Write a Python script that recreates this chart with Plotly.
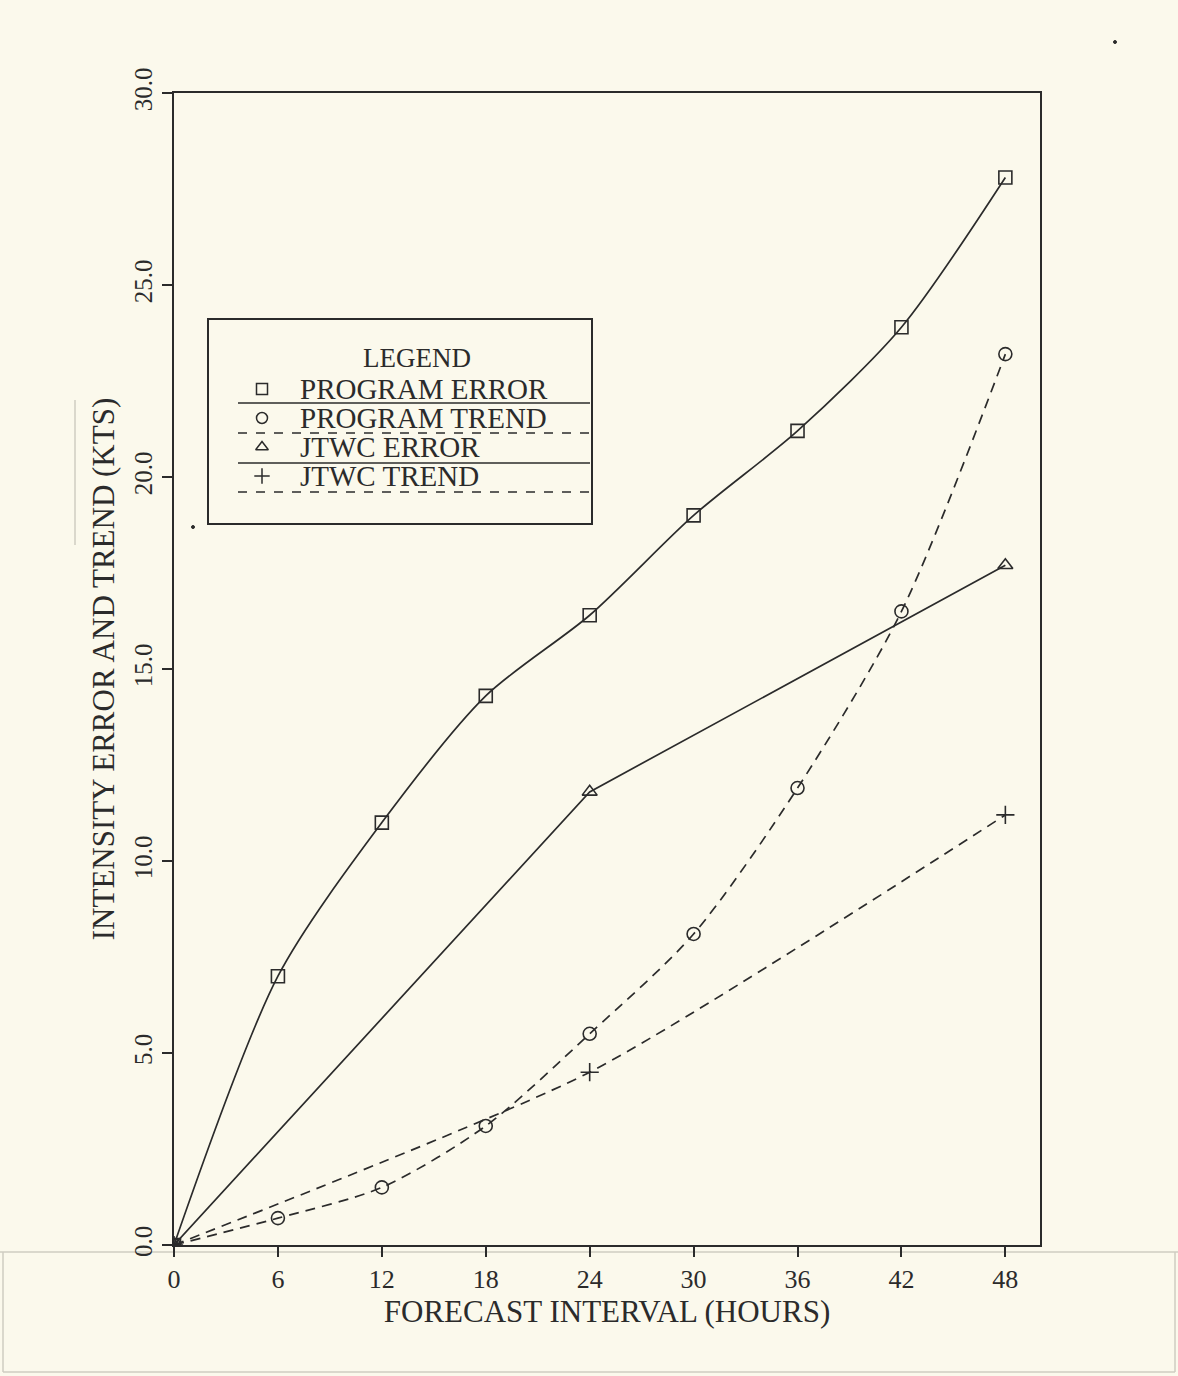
import plotly.graph_objects as go

# ---------------- data ----------------
hours = [0, 6, 12, 18, 24, 30, 36, 42, 48]
program_error = [0.0, 7.0, 11.0, 14.3, 16.4, 19.0, 21.2, 23.9, 27.8]
program_trend = [0.0, 0.7, 1.5, 3.1, 5.5, 8.1, 11.9, 16.5, 23.2]
jtwc_hours = [0, 24, 48]
jtwc_error = [0.0, 11.8, 17.7]
jtwc_trend = [0.0, 4.5, 11.2]

x_ticks = [0, 6, 12, 18, 24, 30, 36, 42, 48]
y_ticks = [0, 5, 10, 15, 20, 25, 30]
legend_labels = ["PROGRAM ERROR", "PROGRAM TREND", "JTWC ERROR", "JTWC TREND"]

# ---------------- style ----------------
W, H = 1178, 1376
L, R, T, B = 174, 138, 93, 131
PW, PH = W - L - R, H - T - B
BG = "#FBF9EC"
INK = "#2b2b2b"
FAINT = "#cfcdc2"
FONT = "Liberation Serif, Times New Roman, serif"

def px(x):
    return (x - L) / PW

def py(y):
    return 1 - (y - T) / PH

fig = go.Figure()

fig.add_trace(go.Scatter(
    x=hours, y=program_error, mode="lines+markers", name=legend_labels[0],
    line=dict(color=INK, width=1.7, shape="spline", smoothing=0.8),
    marker=dict(symbol="square-open", size=13, color=INK, line=dict(width=1.6)),
))
fig.add_trace(go.Scatter(
    x=hours, y=program_trend, mode="lines+markers", name=legend_labels[1],
    line=dict(color=INK, width=1.7, dash="10px,7px", shape="spline", smoothing=0.8),
    marker=dict(symbol="circle-open", size=13, color=INK, line=dict(width=1.6)),
))
fig.add_trace(go.Scatter(
    x=jtwc_hours, y=jtwc_error, mode="lines+markers", name=legend_labels[2],
    line=dict(color=INK, width=1.7),
    marker=dict(symbol="triangle-up-open", size=13, color=INK, line=dict(width=1.6)),
))
fig.add_trace(go.Scatter(
    x=jtwc_hours, y=jtwc_trend, mode="lines+markers", name=legend_labels[3],
    line=dict(color=INK, width=1.7, dash="10px,7px", shape="spline", smoothing=0.6),
    marker=dict(symbol="cross-thin-open", size=13, color=INK, line=dict(width=1.6)),
))

# ---------------- hand-drawn style legend ----------------
shapes = [dict(type="rect", xref="paper", yref="paper",
               x0=px(208), x1=px(592), y0=py(524), y1=py(319),
               line=dict(color=INK, width=2), fillcolor=BG, layer="below")]
annotations = [dict(text="LEGEND", xref="paper", yref="paper", x=px(417), y=py(358),
                    showarrow=False, font=dict(family=FONT, size=27, color=INK),
                    xanchor="center", yanchor="middle")]
row_y = [389, 418, 447, 476]
line_y = [403, 433, 463, 492]
dashes = ["solid", "dash", "solid", "dash"]
symbols = ["square-open", "circle-open", "triangle-up-open", "cross-thin-open"]
for i, lab in enumerate(legend_labels):
    annotations.append(dict(text=lab, xref="paper", yref="paper", x=px(298), y=py(row_y[i]),
                            showarrow=False, font=dict(family=FONT, size=29, color=INK),
                            xanchor="left", yanchor="middle"))
    shapes.append(dict(type="line", xref="paper", yref="paper",
                       x0=px(238), x1=px(590), y0=py(line_y[i]), y1=py(line_y[i]),
                       line=dict(color=INK, width=1.7, dash=dashes[i]), layer="above"))

# faint scan-border lines and specks
for (x0, y0, x1, y1) in [(0, 1252, W, 1252), (3, 1252, 3, 1372), (1175, 1252, 1175, 1372),
                         (3, 1372, 1175, 1372), (75, 400, 75, 545)]:
    shapes.append(dict(type="line", xref="paper", yref="paper",
                       x0=px(x0), x1=px(x1), y0=py(y0), y1=py(y1),
                       line=dict(color=FAINT, width=1.5), layer="below"))
for (cx, cy) in [(193, 527), (1115, 42)]:
    shapes.append(dict(type="circle", xref="paper", yref="paper",
                       x0=px(cx - 1.5), x1=px(cx + 1.5), y0=py(cy + 1.5), y1=py(cy - 1.5),
                       line=dict(color=INK, width=1), fillcolor=INK, layer="above"))

fig.update_layout(shapes=shapes, annotations=annotations)

# legend symbols on an invisible overlay axis (paper-like 0..1 space)
fig.add_trace(go.Scatter(
    x=[px(262)] * 4, y=[py(v) for v in row_y], xaxis="x2", yaxis="y2",
    mode="markers", showlegend=False, hoverinfo="skip",
    marker=dict(symbol=symbols, size=11, color=INK, line=dict(width=1.5)),
))

axis_common = dict(showline=True, linecolor=INK, linewidth=2, mirror=True,
                   ticks="outside", ticklen=10, tickcolor=INK, tickwidth=1.5,
                   showgrid=False, zeroline=False)

fig.update_layout(
    width=W, height=H,
    margin=dict(l=L, r=R, t=T, b=B),
    paper_bgcolor=BG, plot_bgcolor=BG,
    showlegend=False,
    xaxis=dict(range=[0, 50], tickvals=x_ticks, ticktext=[str(v) for v in x_ticks],
               tickfont=dict(family=FONT, size=26, color=INK),
               title=dict(text="FORECAST INTERVAL (HOURS)", font=dict(family=FONT, size=31, color=INK),
                          standoff=2),
               **axis_common),
    yaxis=dict(range=[0, 30], tickvals=y_ticks, ticktext=[f"{v:.1f}" for v in y_ticks],
               tickangle=-90, tickfont=dict(family=FONT, size=25, color=INK),
               title=dict(text="INTENSITY ERROR AND TREND (KTS)", font=dict(family=FONT, size=31, color=INK),
                          standoff=6),
               **axis_common),
    xaxis2=dict(range=[0, 1], overlaying="x", visible=False, anchor="y2"),
    yaxis2=dict(range=[0, 1], overlaying="y", visible=False, anchor="x2"),
)

fig.write_html("out.html", config={"displayModeBar": False},
               post_script="document.body.style.margin='0';document.body.style.background='%s';" % BG)
